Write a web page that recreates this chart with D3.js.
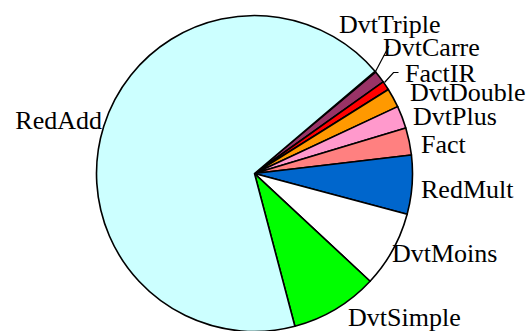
<!DOCTYPE html>
<html><head><meta charset="utf-8">
<script src="https://cdn.jsdelivr.net/npm/d3@7"></script>
<style>html,body{margin:0;padding:0;background:#fff;overflow:hidden}</style>
</head><body>
<svg id="chart" width="526" height="331"></svg>
<script>
const categories = ["DvtTriple","DvtCarre","FactIR","DvtDouble","DvtPlus","Fact","RedMult","DvtMoins","DvtSimple","RedAdd"];
const values = [0.1, 1.25, 0.92, 1.97, 2.3, 2.78, 6.03, 7.78, 8.94, 67.9];
const colors = ["#660066","#993366","#FF0000","#FF9900","#FF99CC","#FF8080","#0066CC","#FFFFFF","#00FF00","#CCFFFF"];

// label layout (text only)
const labelPos = {
  DvtTriple:[339,33], DvtCarre:[383,56], FactIR:[405,82], DvtDouble:[410,101],
  DvtPlus:[413,125], Fact:[421,153], RedMult:[421,198], DvtMoins:[392,262],
  DvtSimple:[348,326], RedAdd:[102,129]
};
const leaders = {
  DvtCarre:[[389,46],[375.5,71.5]],
  FactIR:[[398.5,72.5],[393.5,72.5],[384.5,82.5]]
};

const svg = d3.select("#chart");
const cx = 254.5, cy = 173.5, R = 158;
const start = 49.7 * Math.PI/180;
const pie = d3.pie().sort(null).startAngle(start).endAngle(start + 2*Math.PI);
const arcs = pie(values);
const arc = d3.arc().innerRadius(0).outerRadius(R);
const g = svg.append("g").attr("transform", `translate(${cx},${cy})`);
g.selectAll("path").data(arcs).join("path")
  .attr("d", arc)
  .attr("fill", (d,i) => colors[i])
  .attr("stroke", "#000").attr("stroke-width", 1.6).attr("stroke-linejoin","round");

const line = d3.line();
Object.entries(leaders).forEach(([k, pts]) => {
  svg.append("path").attr("d", line(pts)).attr("fill","none").attr("stroke","#000").attr("stroke-width",1.2);
});

categories.forEach((c) => {
  const p = labelPos[c];
  svg.append("text").attr("x", p[0]).attr("y", p[1])
    .attr("text-anchor", c === "RedAdd" ? "end" : "start")
    .attr("font-family", "'Liberation Serif', 'Times New Roman', serif")
    .attr("font-size", 26).attr("fill", "#000").text(c);
});
</script>
</body></html>
